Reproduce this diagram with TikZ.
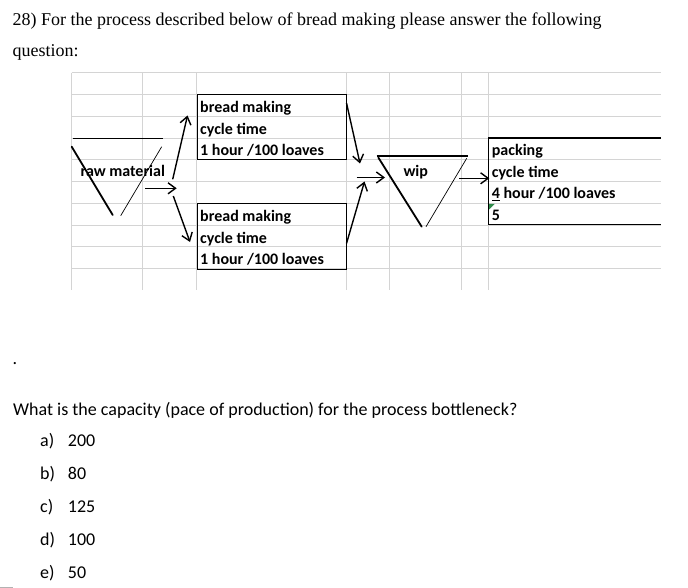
\documentclass[tikz,border=0pt]{standalone}
\usepackage{fontspec}
\setmainfont{Liberation Serif}
\newfontfamily\calfont{Carlito}
\usetikzlibrary{arrows.meta}
\definecolor{gridgray}{HTML}{D4D4D4}
\definecolor{markgreen}{HTML}{2E8B4A}
\begin{document}
\begin{tikzpicture}[x=1pt,y=-1pt,
  gridline/.style={draw=gridgray, line width=0.8pt},
  cellbox/.style={draw=black, line width=1pt, inner sep=0pt, anchor=north west},
  celltext/.style={anchor=base west, inner sep=0pt, font=\calfont\bfseries\fontsize{16}{19}\selectfont},
  titletext/.style={anchor=base west, inner sep=0pt, font=\fontsize{18}{21}\selectfont},
  qtext/.style={anchor=base west, inner sep=0pt, font=\calfont\fontsize{18}{21}\selectfont},
  conn/.style={line width=1.4pt, -{Straight Barb[length=7.5pt,width=11pt,line width=1.4pt]}},
  thickside/.style={line width=1.8pt, line cap=round},
  thinside/.style={line width=0.7pt},
  topside/.style={line width=1.5pt}]
\useasboundingbox (0,0) rectangle (688,588);
\fill[white] (0,0) rectangle (688,588);

% title
\node[titletext] (title1) at (12.5,26) {28) For the process described below of bread making please answer the following};
\node[titletext] (title2) at (12.5,57) {question:};

% spreadsheet grid
\foreach \yy in {72.7,94.5,116.2,138,159.8,181.5,203.3,225,246.8,268.6}
  \draw[gridline] (71.7,\yy) -- (661,\yy);
\foreach \xx in {71.7,142.7,196.7,346,389.3,461.7,488.3}
  \draw[gridline] (\xx,72.7) -- (\xx,290);

% bread making boxes
\node[cellbox, minimum width=149.3pt, minimum height=65pt] (bm1) at (196.7,94.3) {};
\node[cellbox, minimum width=149.3pt, minimum height=65.5pt] (bm2) at (196.7,203.3) {};
\node[celltext] (bm1a) at (200,112.5) {bread making};
\node[celltext] (bm1b) at (200,134.2) {cycle time};
\node[celltext] (bm1c) at (200,155.8) {1 hour /100 loaves};
\node[celltext] (bm2a) at (200,221.5) {bread making};
\node[celltext] (bm2b) at (200,243.2) {cycle time};
\node[celltext] (bm2c) at (200,264.8) {1 hour /100 loaves};

% packing box (open to the right)
\coordinate (pkTR) at (661,138);
\coordinate (pkTL) at (488.3,138);
\coordinate (pkBL) at (488.3,224.5);
\coordinate (pkBR) at (661,224.5);
\draw[line width=1.3pt] (pkTR) -- (pkTL) -- (pkBL) -- (pkBR);
\fill[markgreen] (489,204) -- (494.5,204) -- (489,209.5) -- cycle;
\node[celltext] (pk1) at (491.7,155.5) {packing};
\node[celltext] (pk2) at (491.7,177.2) {cycle time};
\node[celltext] (pk3) at (491.7,198.9) {\underline{4} hour /100 loaves};
\node[celltext] (pk4) at (491.7,220.6) {5};

% raw material inventory triangle
\coordinate (rmT1) at (73.3,138.3);
\coordinate (rmT2) at (163.3,138.3);
\coordinate (rmL1) at (71.7,146.7);
\coordinate (rmL2) at (112.7,215);
\coordinate (rmR1) at (161.7,146.7);
\coordinate (rmR2) at (120.7,215.7);
\draw[topside] (rmT1) -- (rmT2);
\draw[thickside] (rmL1) -- (rmL2);
\draw[thinside] (rmR1) -- (rmR2);
\node[celltext] (raw) at (80.5,177) {raw material};

% wip triangle
\coordinate (wpT1) at (376.7,156);
\coordinate (wpT2) at (467.7,156);
\coordinate (wpL1) at (378.3,157.5);
\coordinate (wpL2) at (421.7,226.7);
\coordinate (wpR1) at (466.7,158.3);
\coordinate (wpR2) at (426,226.7);
\draw[topside] (wpT1) -- (wpT2);
\draw[thickside] (wpL1) -- (wpL2);
\draw[thinside] (wpR1) -- (wpR2);
\node[celltext] (wip) at (403.3,177) {wip};

% arrows
\coordinate (a1s) at (145,188.3);  \coordinate (a1e) at (176.7,188.3);
\coordinate (a2s) at (172.7,179.3); \coordinate (a2e) at (187.5,115.5);
\coordinate (a3s) at (173.3,196);  \coordinate (a3e) at (190,242);
\coordinate (a4s) at (346.5,103);  \coordinate (a4e) at (360,163.5);
\coordinate (a5s) at (346.5,243.5); \coordinate (a5e) at (364.5,181.5);
\coordinate (a6s) at (356.7,177.5); \coordinate (a6e) at (385,177.5);
\coordinate (a7s) at (459.3,178.3); \coordinate (a7e) at (489.3,178.3);
\draw[conn] (a1s) -- (a1e);
\draw[conn] (a2s) -- (a2e);
\draw[conn] (a3s) -- (a3e);
\draw[conn] (a4s) -- (a4e);
\draw[conn] (a5s) -- (a5e);
\draw[conn] (a6s) -- (a6e);
\draw[conn] (a7s) -- (a7e);

% question
\node[qtext] (dot) at (12.5,364.5) {.};
\node[qtext] (q) at (13,415) {What is the capacity (pace of production) for the process bottleneck?};
\node[qtext] (oa) at (40,446.7) {a)};  \node[qtext] (va) at (67.7,446.7) {200};
\node[qtext] (ob) at (40,479.7) {b)};  \node[qtext] (vb) at (67.7,479.7) {80};
\node[qtext] (oc) at (40,512.7) {c)};  \node[qtext] (vc) at (67.7,512.7) {125};
\node[qtext] (od) at (40,545.7) {d)};  \node[qtext] (vd) at (67.7,545.7) {100};
\node[qtext] (oe) at (40,578.7) {e)};  \node[qtext] (ve) at (67.7,578.7) {50};
\fill[gray!60] (0,586.5) rectangle (13,588);
\end{tikzpicture}
\end{document}
